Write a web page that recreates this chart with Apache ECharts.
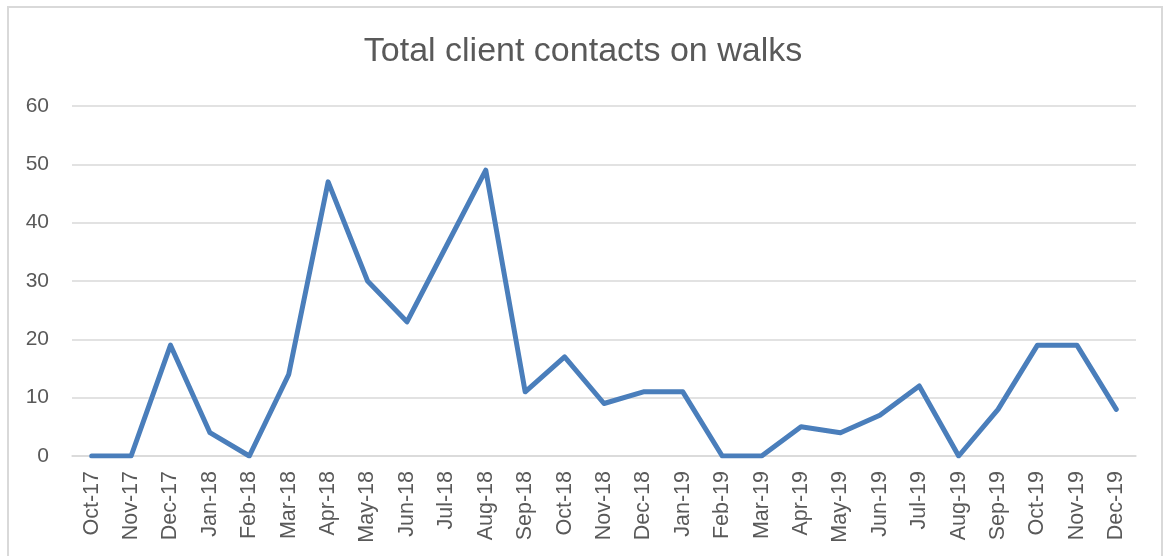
<!DOCTYPE html>
<html>
<head>
<meta charset="utf-8">
<script src="https://cdn.jsdelivr.net/npm/echarts@6/dist/echarts.min.js"></script>
<style>
html,body{margin:0;padding:0;background:#fff;}
#chart{width:1166px;height:556px;}
</style>
</head>
<body>
<div id="chart"></div>
<script>
const titleText = 'Total client contacts on walks';
const categories = ['Oct-17','Nov-17','Dec-17','Jan-18','Feb-18','Mar-18','Apr-18','May-18','Jun-18','Jul-18','Aug-18','Sep-18','Oct-18','Nov-18','Dec-18','Jan-19','Feb-19','Mar-19','Apr-19','May-19','Jun-19','Jul-19','Aug-19','Sep-19','Oct-19','Nov-19','Dec-19'];
const contacts = [0,0,19,4,0,14,47,30,23,36,49,11,17,9,11,11,0,0,5,4,7,12,0,8,19,19,8];
const yMin = 0, yMax = 60, yInterval = 10;

const chart = echarts.init(document.getElementById('chart'));
chart.setOption({
  animation: false,
  backgroundColor: '#ffffff',
  textStyle: { fontFamily: 'Liberation Sans, Arial, sans-serif' },
  graphic: [{
    type: 'rect',
    shape: { x: 8, y: 7, width: 1154, height: 600 },
    style: { fill: 'none', stroke: '#d9d9d9', lineWidth: 2 },
    silent: true
  }],
  title: {
    text: titleText,
    left: 'center',
    top: 30,
    textStyle: { color: '#595959', fontSize: 34, fontWeight: 'normal', fontFamily: 'Liberation Sans, Arial, sans-serif' }
  },
  grid: { left: 72, right: 30, top: 106, bottom: 100, containLabel: false },
  xAxis: {
    type: 'category',
    data: categories,
    boundaryGap: true,
    axisLine: { show: true, lineStyle: { color: '#d9d9d9', width: 1.5 } },
    axisTick: { show: false },
    axisLabel: { rotate: 90, margin: 15, color: '#595959', fontSize: 21.5, interval: 0 }
  },
  yAxis: {
    type: 'value',
    min: yMin, max: yMax, interval: yInterval,
    axisLine: { show: false },
    axisTick: { show: false },
    axisLabel: { color: '#595959', fontSize: 21, margin: 23 },
    splitLine: { lineStyle: { color: '#d9d9d9', width: 1.5 } }
  },
  series: [{
    type: 'line',
    data: contacts,
    symbol: 'none',
    lineStyle: { color: '#4A7EBB', width: 5, join: 'round', cap: 'round' },
    itemStyle: { color: '#4A7EBB' }
  }]
});
</script>
</body>
</html>
